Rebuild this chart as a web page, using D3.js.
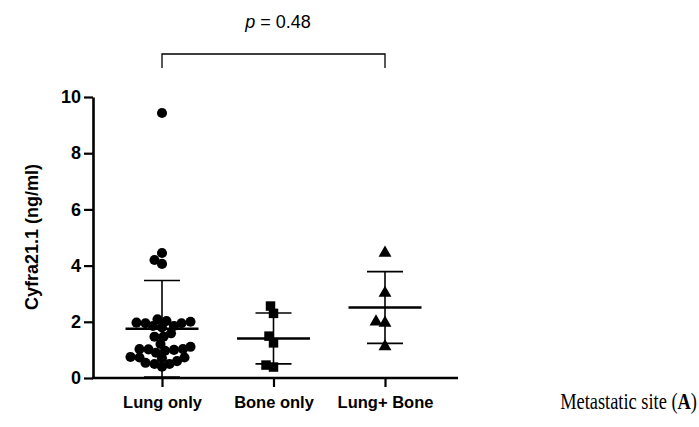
<!DOCTYPE html>
<html><head><meta charset="utf-8">
<script src="https://cdn.jsdelivr.net/npm/d3@7"></script>
<style>body{margin:0;background:#fff}svg{display:block}</style>
</head><body>
<svg id="c" width="699" height="427"></svg>
<script>
const categories = ["Lung only", "Bone only", "Lung+ Bone"];
const lungOnly = [9.43, 4.45, 4.2, 4.06, 2.09, 2.03, 2.0, 1.97, 1.95, 1.95, 1.85, 1.85, 1.8, 1.59, 1.47, 1.47, 1.21, 1.11, 1.03, 1.03, 1.02, 1.0, 0.97, 0.9, 0.75, 0.73, 0.73, 0.7, 0.6, 0.54, 0.5, 0.5, 0.4];
const boneOnly = [2.56, 2.3, 1.49, 1.25, 0.39, 0.46];
const lungBone = [4.45, 3.02, 2.0, 1.96, 1.12];
const yTicks = [0, 2, 4, 6, 8, 10];
const pLabel = "0.48";

const series = [lungOnly, boneOnly, lungBone];
const shapes = [d3.symbolCircle, d3.symbolSquare, d3.symbolTriangle];
const sizes = [80, 90, 72];

const svg = d3.select("#c");
const x = d3.scalePoint().domain(categories).range([162, 385]);
const y = d3.scaleLinear().domain([0, 10]).range([378, 97]);
const sans = "Liberation Sans, Arial, sans-serif";

// axes
const yAxis = svg.append("g").attr("transform", "translate(93,0)")
  .call(d3.axisLeft(y).tickValues(yTicks).tickSize(9).tickSizeOuter(0));
yAxis.select(".domain").attr("stroke-width", 2.6);
yAxis.selectAll(".tick line").attr("stroke-width", 2.2);
yAxis.selectAll(".tick text").attr("font-family", sans)
  .attr("font-weight", "bold").attr("font-size", 18).attr("fill", "#000").attr("x", -12);

const xg = svg.append("g").attr("transform", "translate(0,378)");
xg.append("line").attr("x1", 92).attr("x2", 458).attr("stroke", "#000").attr("stroke-width", 2.6);
xg.append("g").call(d3.axisBottom(x).tickSize(9).tickSizeOuter(0));
xg.selectAll(".domain").remove();
xg.selectAll(".tick line").attr("stroke-width", 2.2);
xg.selectAll(".tick text").attr("font-family", sans)
  .attr("font-weight", "bold").attr("font-size", 16.5).attr("fill", "#000").attr("y", 18);

// y title
svg.append("text").attr("transform", "translate(38,237) rotate(-90)")
  .attr("text-anchor", "middle").attr("font-family", sans)
  .attr("font-weight", "bold").attr("font-size", 18).text("Cyfra21.1 (ng/ml)");

// beeswarm layout
function swarm(vals, cx, r) {
  const sorted = vals.map((v, i) => ({v, i})).sort((a, b) => a.v - b.v);
  const placed = [];
  const out = [];
  sorted.forEach(p => {
    const py = y(p.v);
    let best = null;
    for (let k = 0; k < 60; k++) {
      const off = (k % 2 === 0 ? 1 : -1) * Math.ceil(k / 2) * 1.5;
      const px = cx + off;
      if (placed.every(q => (q.x - px) ** 2 + (q.y - py) ** 2 >= (2 * r) ** 2 * 0.6)) { best = px; break; }
    }
    if (best === null) best = cx;
    placed.push({x: best, y: py});
    out.push({x: best, y: py, v: p.v});
  });
  return out;
}

series.forEach((vals, gi) => {
  const cx = x(categories[gi]);
  const m = d3.mean(vals), sd = d3.deviation(vals);
  const pts = swarm(vals, cx, 5);
  const g = svg.append("g");
  g.selectAll("path.pt").data(pts).join("path").attr("class", "pt")
    .attr("transform", d => `translate(${d.x},${d.y})`)
    .attr("d", d3.symbol().type(shapes[gi]).size(sizes[gi])).attr("fill", "#000");
  // error bars
  g.append("line").attr("x1", cx).attr("x2", cx).attr("y1", y(m + sd)).attr("y2", y(Math.max(0, m - sd)))
    .attr("stroke", "#000").attr("stroke-width", 1.6);
  [m + sd, Math.max(0, m - sd)].forEach(v => g.append("line").attr("x1", cx - 18).attr("x2", cx + 18)
    .attr("y1", y(v)).attr("y2", y(v)).attr("stroke", "#000").attr("stroke-width", 1.6));
  g.append("line").attr("x1", cx - 36.5).attr("x2", cx + 36.5).attr("y1", y(m)).attr("y2", y(m))
    .attr("stroke", "#000").attr("stroke-width", 2.6);
});

// significance bracket
svg.append("path").attr("d", `M${x(categories[0])},68V54H${x(categories[2])}V68`)
  .attr("fill", "none").attr("stroke", "#000").attr("stroke-width", 1.3);
const pt = svg.append("text").attr("x", 278).attr("y", 28).attr("text-anchor", "middle")
  .attr("font-family", sans).attr("font-size", 18);
pt.append("tspan").attr("font-style", "italic").text("p");
pt.append("tspan").text(" = " + pLabel);

// x caption
const cap = svg.append("text").attr("transform", "translate(697,409) scale(0.8,1)").attr("text-anchor", "end")
  .attr("font-family", "Liberation Serif, Times New Roman, serif").attr("font-size", 23);
cap.append("tspan").text("Metastatic site (");
cap.append("tspan").attr("font-weight", "bold").text("A");
cap.append("tspan").text(")");
</script>
</body></html>
